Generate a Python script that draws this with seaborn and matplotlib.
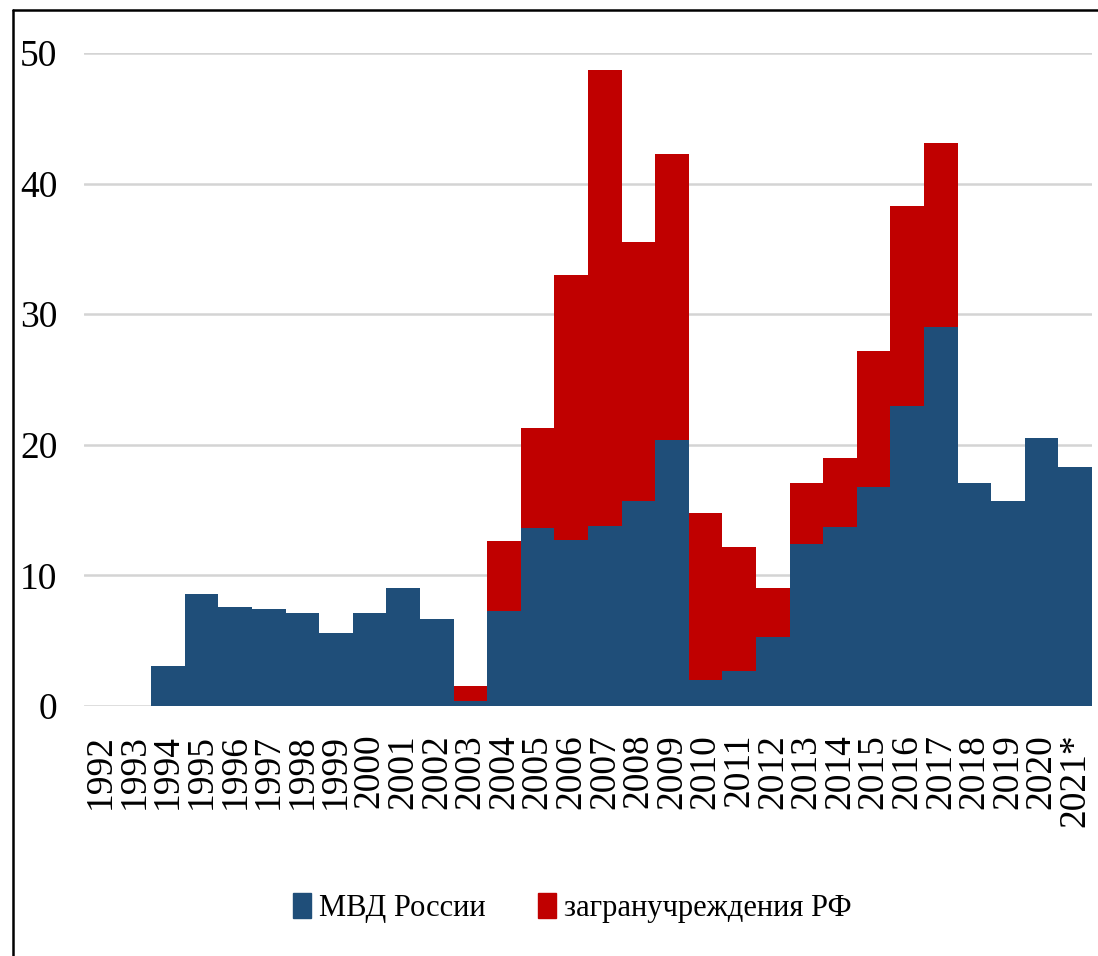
import matplotlib
matplotlib.use("Agg")
import matplotlib.pyplot as plt
from matplotlib.lines import Line2D
import seaborn as sns
import pandas as pd

# Annual figures by issuing authority
years = ["1992", "1993", "1994", "1995", "1996", "1997", "1998", "1999", "2000",
         "2001", "2002", "2003", "2004", "2005", "2006", "2007", "2008", "2009",
         "2010", "2011", "2012", "2013", "2014", "2015", "2016", "2017", "2018",
         "2019", "2020", "2021*"]
mvd = [0, 0, 3.1, 8.6, 7.6, 7.4, 7.1, 5.6, 7.1, 9.0, 6.7, 0.4, 7.3, 13.6, 12.7,
       13.8, 15.7, 20.4, 2.0, 2.7, 5.3, 12.4, 13.7, 16.8, 23.0, 29.0, 17.1, 15.7,
       20.5, 18.3]
zagran = [0, 0, 0, 0, 0, 0, 0, 0, 0, 0, 0, 1.1, 5.3, 7.7, 20.3, 34.9, 19.8, 21.9,
          12.8, 9.5, 3.7, 4.7, 5.3, 10.4, 15.3, 14.1, 0, 0, 0, 0]
series_names = ["МВД России", "загранучреждения РФ"]
yticks = [0, 10, 20, 30, 40, 50]

BLUE = "#1F4E79"
RED = "#C00000"

df = pd.DataFrame({"year": years, "mvd": mvd, "zagran": zagran})
df["total"] = df["mvd"] + df["zagran"]

sns.set_theme(style="white")
plt.rcParams["font.family"] = ["Liberation Serif", "DejaVu Serif"]

fig = plt.figure(figsize=(10.98, 9.56), dpi=100)
ax = fig.add_axes([0.0765, 0.2615, 0.918, 0.683])

# Stacked bars: total in red, the МВД share drawn over it in blue
sns.barplot(data=df, x="year", y="total", order=years, color=RED, width=1.0,
            saturation=1, linewidth=0, ax=ax, zorder=2)
sns.barplot(data=df, x="year", y="mvd", order=years, color=BLUE, width=1.0,
            saturation=1, linewidth=0, ax=ax, zorder=3)

ax.set_ylim(0, 50)
ax.set_xlim(-0.5, len(years) - 0.5)
ax.set_yticks(yticks)
ax.set_yticklabels([str(v) for v in yticks])
ax.yaxis.grid(True, color="#d4d4d4", linewidth=1.8, zorder=0)
ax.set_axisbelow(True)
for s in ax.spines.values():
    s.set_visible(False)
ax.set_xlabel("")
ax.set_ylabel("")
ax.tick_params(axis="y", length=0, pad=19, labelsize=27, labelcolor="black")
ax.tick_params(axis="x", length=0, pad=20, labelsize=27, labelcolor="black",
               labelrotation=90)

handles = [plt.Rectangle((0, 0), 1, 1, color=BLUE),
           plt.Rectangle((0, 0), 1, 1, color=RED)]
fig.legend(handles, series_names, loc="center", bbox_to_anchor=(0.521, 0.05),
           ncol=2, frameon=False, fontsize=22, labelcolor="black",
           handlelength=0.6, handleheight=0.9, handletextpad=0.25,
           columnspacing=1.7)

# Frame lines along the top and left edges
fig.add_artist(Line2D([0.0118, 0.0118], [0.0, 0.9895], color="black",
                      linewidth=1.8, transform=fig.transFigure))
fig.add_artist(Line2D([0.0118, 1.0], [0.9895, 0.9895], color="black",
                      linewidth=1.8, transform=fig.transFigure))

fig.savefig("out.png", dpi=100, facecolor="white")
